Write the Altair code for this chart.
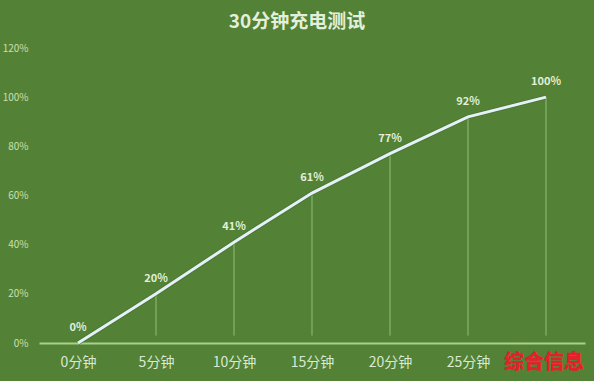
import altair as alt
import pandas as pd

categories = ["0分钟", "5分钟", "10分钟", "15分钟", "20分钟", "25分钟", "30分钟"]
values = [0, 20, 41, 61, 77, 92, 100]
labels = ["0%", "20%", "41%", "61%", "77%", "92%", "100%"]
title_text = "30分钟充电测试"
watermark = "综合信息"

df = pd.DataFrame({"cat": categories, "val": values, "lab": labels, "floor": [3] * len(values)})

FONT = "Noto Sans CJK SC"
BG = "#538135"

x_enc = alt.X("cat:N", sort=categories,
              scale=alt.Scale(type="point", padding=0.5),
              axis=alt.Axis(title=None, labelAngle=0, ticks=False, domain=True,
                            domainColor="#a9d18e", domainWidth=2,
                            labelExpr="datum.label == '30分钟' ? '' : datum.label",
                            labelColor="#d9ead3", labelFont=FONT, labelFontSize=14,
                            labelPadding=12, grid=False))
y_scale = alt.Scale(domain=[0, 120], nice=False)
y_enc = alt.Y("val:Q", scale=y_scale,
              axis=alt.Axis(title=None, values=[0, 20, 40, 60, 80, 100, 120],
                            labelExpr="datum.value + '%'", ticks=False, domain=False,
                            grid=False, labelColor="#c5e0b4", labelFont=FONT,
                            labelFontSize=10, labelPadding=11))

base = alt.Chart(df)

drops = base.transform_filter("datum.val > 0").mark_rule(
    color="#a9d18e", strokeWidth=1, opacity=0.75
).encode(x=x_enc, y=y_enc, y2="floor:Q")

shadow = base.mark_line(color="#3f6a2a", strokeWidth=4.5, opacity=0.6).encode(x=x_enc, y=y_enc)
line = base.mark_line(color="#e4f1f8", strokeWidth=3).encode(x=x_enc, y=y_enc)

text = base.mark_text(dy=-15, font=FONT, fontSize=11, fontWeight="bold",
                      color="#e2efda").encode(x=x_enc, y=y_enc, text="lab:N")

title = alt.Chart(pd.DataFrame({"t": [title_text]})).mark_text(
    font=FONT, fontSize=19, fontWeight="bold", color="#e2efda", align="center", baseline="middle"
).encode(x=alt.value(258), y=alt.value(-26), text="t:N")

wm_df = pd.DataFrame({"t": [watermark]})
wm = alt.Chart(wm_df).mark_text(
    font=FONT, fontSize=20, fontWeight=900, color="#e3202b",
    align="center", baseline="middle"
).encode(x=alt.value(505), y=alt.value(315), text="t:N")

chart = alt.layer(drops, shadow, line, text, title, wm).properties(
    width=546, height=295,
    autosize=alt.AutoSizeParams(type="none"),
    padding={"left": 39, "top": 48, "right": 9, "bottom": 38},
    background=BG,
).configure_view(stroke=None)

chart.save("out.html", embed_options={"renderer": "svg", "actions": False})
